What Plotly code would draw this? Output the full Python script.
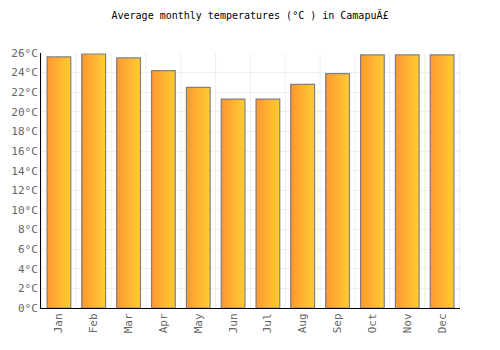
import plotly.graph_objects as go

months = ["Jan", "Feb", "Mar", "Apr", "May", "Jun", "Jul", "Aug", "Sep", "Oct", "Nov", "Dec"]
temps = [25.6, 25.9, 25.5, 24.2, 22.5, 21.3, 21.3, 22.8, 23.9, 25.8, 25.8, 25.8]
y_ticks = list(range(0, 27, 2))
y_labels = [f"{v}°C" for v in y_ticks]

fig = go.Figure()

# gradient approximation: overlaid bars of decreasing width, left-aligned
# (later, narrower traces sit on top at the left edge)
N = 24
bw = 0.68
c_left = (255, 153, 51)   # orange
c_right = (255, 204, 51)  # yellow
for k in range(N):
    frac = 1 - k / N
    t = 1 - k / (N - 1)   # k=0 (widest) -> yellow, last (narrowest, leftmost) -> orange
    col = tuple(round(c_left[i] + (c_right[i] - c_left[i]) * t) for i in range(3))
    fig.add_trace(go.Bar(
        x=months, y=temps,
        width=bw * frac, offset=-bw / 2,
        marker=dict(color=f"rgb{col}", line=dict(width=0)),
        hoverinfo="skip", showlegend=False,
    ))
fig.add_trace(go.Bar(
    x=months, y=temps, width=bw, offset=-bw / 2,
    marker=dict(color="rgba(0,0,0,0)", line=dict(color="#808080", width=1.2)),
    showlegend=False,
))

fig.update_layout(
    barmode="overlay",
    width=500, height=350,
    margin=dict(l=41, r=40, t=53, b=42),
    paper_bgcolor="white", plot_bgcolor="white",
    font=dict(family="DejaVu Sans Mono", size=11, color="#666666"),
    title=dict(text="Average monthly temperatures (°C ) in CamapuĂ£",
               x=0.5, xanchor="center", y=0.955, yanchor="middle",
               font=dict(family="DejaVu Sans Mono", size=10, color="#000000")),
    xaxis=dict(
        tickangle=-90, showline=True, linecolor="#000000", linewidth=1,
        showgrid=False, ticks="", tickfont=dict(size=11, color="#666666"),
    ),
    yaxis=dict(
        range=[0, 26], tickvals=y_ticks, ticktext=y_labels,
        showline=True, linecolor="#000000", linewidth=1,
        gridcolor="#eeeeee", gridwidth=1, ticks="", zeroline=False,
        tickfont=dict(size=11, color="#666666"),
    ),
)

# vertical grid lines at category boundaries
for i in range(len(months) + 1):
    fig.add_shape(type="line", xref="x", yref="paper",
                  x0=i - 0.5, x1=i - 0.5, y0=0, y1=1,
                  line=dict(color="#eeeeee", width=1), layer="below")

fig.write_html("out.html")
